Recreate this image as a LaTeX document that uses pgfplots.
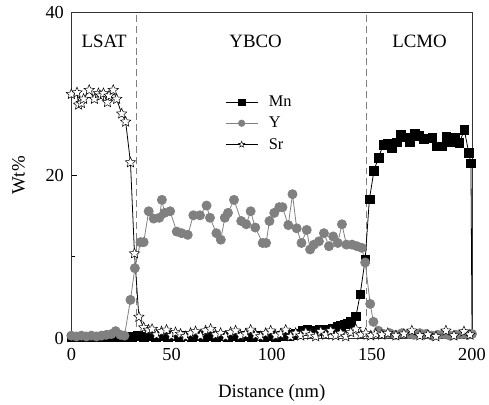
\documentclass[border=0pt]{standalone}
\usepackage{fontspec}
\setmainfont{Liberation Serif}
\usepackage{pgfplots}
\pgfplotsset{compat=1.18}

\pgfdeclareplotmark{ostar}{%
  \pgfpathmoveto{\pgfpointpolar{90}{\pgfplotmarksize}}%
  \pgfpathlineto{\pgfpointpolar{126}{0.45\pgfplotmarksize}}%
  \pgfpathlineto{\pgfpointpolar{162}{\pgfplotmarksize}}%
  \pgfpathlineto{\pgfpointpolar{198}{0.45\pgfplotmarksize}}%
  \pgfpathlineto{\pgfpointpolar{234}{\pgfplotmarksize}}%
  \pgfpathlineto{\pgfpointpolar{270}{0.45\pgfplotmarksize}}%
  \pgfpathlineto{\pgfpointpolar{306}{\pgfplotmarksize}}%
  \pgfpathlineto{\pgfpointpolar{342}{0.45\pgfplotmarksize}}%
  \pgfpathlineto{\pgfpointpolar{18}{\pgfplotmarksize}}%
  \pgfpathlineto{\pgfpointpolar{54}{0.45\pgfplotmarksize}}%
  \pgfpathclose
  \pgfusepathqfillstroke
}

\pgfplotstableread{
x y
0 0.1
3 0.1
6 0.1
9 0.1
12 0.1
15 0.1
18 0.1
21 0.1
24 0.1
27 0.1
30 0.2
33 0.3
36 0.2
39 0.3
42 0.2
45 0.3
48 0.2
51 0.3
54 0.2
57 0.3
60 0.2
63 0.3
66 0.2
69 0.3
72 0.2
75 0.3
78 0.2
81 0.3
84 0.2
87 0.3
90 0.2
93 0.3
96 0.2
99 0.3
102 0.2
105 0.3
108 0.3
110 0.4
112 0.6
115.3 0.9
117.8 1.0
120 0.9
121.9 0.9
124 1.0
126.1 1.0
128.6 1.1
130.5 1.2
132.7 1.4
134.5 1.5
136.3 1.7
138 1.8
139.3 2.0
142.1 2.7
144.2 5.4
146.7 9.7
148.8 17.1
151.1 20.6
153.3 22.2
155.8 23.8
157.8 23.9
159.9 23.4
162.4 24.1
164.4 25.0
166.5 24.7
169 24.1
171.4 25.1
173.6 24.9
175.9 24.5
178 24.6
180.2 24.7
182.2 23.6
185.1 23.6
187.1 24.8
189.6 24.2
191.7 24.7
193.7 24.0
196.2 25.6
198.4 22.8
199.5 21.5
200.1 -2
}\mndata

\pgfplotstableread{
x y
0 0.3
2.5 0.2
5 0.3
7.5 0.2
10 0.3
12.5 0.2
15 0.3
17.5 0.4
20 0.5
22.1 0.85
24.5 0.4
26.5 0.3
29.5 4.7
31.7 8.6
34.5 11.8
36.1 11.8
38.6 15.6
41.1 14.7
43.9 14.8
45.2 17.0
46.5 15.4
49.3 15.6
52.6 13.1
55.1 12.9
58.1 12.7
60.9 15.1
64.2 15.1
67.5 16.3
69.2 14.8
72.4 12.9
74.6 12.1
76.6 14.8
78.2 15.4
81.2 17.0
84.8 14.4
87.3 14.0
89.5 15.6
91.8 13.6
95.5 11.7
97.2 11.7
98.9 14.4
101.3 15.4
103.8 16.1
105.4 16.1
108.3 13.9
110.4 17.7
112.5 13.5
114.9 11.7
117.5 13.3
119.2 10.9
121.1 11.5
123.6 11.9
126.1 12.9
128.6 11.3
130.7 12.5
133.0 11.7
135.1 14.0
137.3 11.5
140.1 11.5
142.6 11.3
145.0 11.1
146.7 9.3
149.2 4.2
150.8 2.0
153.3 0.9
156 0.5
159 0.6
162 0.4
165 0.6
168 0.5
171 0.4
174 0.6
177 0.5
180 0.3
183 0.4
186 0.5
189 0.3
192 0.4
195 0.5
198 0.4
200 0.5
}\ydata

\pgfplotstableread{
x y
0 30.0
2.8 30.2
3.6 28.7
5.0 28.9
6.1 29.4
8.9 30.5
11.5 29.4
13.5 30.1
14.7 29.8
16.0 30.1
18.0 29.0
18.8 29.8
20.9 30.5
22.6 29.4
25.1 27.6
27.1 26.6
29.5 21.6
31.5 10.4
33.7 2.6
36.1 1.3
38.5 1.0
40.3 1.1
42.5 0.4
45.0 0.8
47.5 1.0
50 0.3
52 0.7
54.5 0.5
57 0.2
59.5 0.6
62 0.8
64.5 0.3
67 0.9
69.5 1.1
72 0.4
74.5 0.6
77 0.2
79.5 0.7
82 0.9
84.5 0.3
87 0.5
89.5 1.0
92 0.4
94.5 0.2
97 0.6
99.5 0.9
102 0.3
104.5 0.5
107 1.0
109.5 0.2
112 0.6
114.5 0.3
117 0.7
119.5 0.4
122 0.2
124.5 0.8
127 0.4
129.5 0.9
132 0.3
134.5 0.6
137 0.2
139.5 0.7
142 1.1
144.5 0.4
147 0.6
149.5 0.3
152 0.5
155 0.4
158 0.6
162 0.3
166 0.5
170 0.9
174 0.3
178 0.4
182 0.2
187 0.9
191 0.3
196 0.8
199 0.4
}\srdata

\definecolor{ygray}{RGB}{128,128,128}

\begin{document}
\begin{tikzpicture}
\begin{axis}[
  scale only axis, width=404pt, height=328pt,
  xmin=0, xmax=200, ymin=0, ymax=40,
  xtick={0,50,100,150,200}, ytick={0,20,40},
  minor xtick={25,75,125,175}, minor ytick={10,30},
  tick pos=left, tick align=inside,
  major tick length=6pt, minor tick length=3.5pt,
  tick style={black, line width=0.8pt},
  axis line style={line width=0.8pt, black!80},
  ticklabel style={font=\fontsize{18.5}{18.5}\selectfont},
  xticklabel style={yshift=-7pt},
  yticklabel style={xshift=-4pt},
  /pgf/number format/assume math mode=true,
  xlabel={Distance (nm)}, ylabel={Wt\%},
  label style={font=\fontsize{19}{19}\selectfont},
  xlabel style={yshift=-17pt},
  ylabel style={yshift=14pt},
  legend style={at={(rel axis cs:0.384,0.748)}, anchor=north west, draw=none, fill=none,
    font=\fontsize{16.5}{16.5}\selectfont, row sep=7pt, inner sep=0pt,
    nodes={inner sep=1pt}},
  legend cell align=left,
  legend image code/.code={\draw[mark repeat=2,mark phase=2,mark size=3.2pt] plot coordinates {(0pt,0pt) (16pt,0pt) (32pt,0pt)}; \path (42pt,0pt);},
]
\addplot[forget plot, ygray, line width=0.8pt, dash pattern=on 7pt off 4pt] coordinates {(32.7,0) (32.7,40)};
\addplot[forget plot, ygray, line width=0.8pt, dash pattern=on 7pt off 4pt] coordinates {(147.5,0) (147.5,40)};
\addplot[black, line width=0.8pt, mark=square*, mark size=4.4pt, mark options={fill=black, draw=black, line width=0.4pt}] table {\mndata};
\addlegendentry{Mn}
\addplot[ygray, line width=0.8pt, mark=*, mark size=4.6pt, mark options={fill=ygray, draw=ygray}] table {\ydata};
\addlegendentry{Y}
\addplot[black, line width=0.8pt, mark=ostar, mark size=5.5pt, mark options={fill=white, draw=black, line width=0.5pt}] table {\srdata};
\addlegendentry{Sr}
\node[font=\fontsize{19}{19}\selectfont] at (axis cs:16.3,36.5) {LSAT};
\node[font=\fontsize{19}{19}\selectfont] at (axis cs:92,36.5) {YBCO};
\node[font=\fontsize{19}{19}\selectfont] at (axis cs:173.8,36.5) {LCMO};
\end{axis}
\path (current axis.south west) +(-72pt,-62pt) (current axis.north east) +(13pt,13pt);
\end{tikzpicture}
\end{document}
